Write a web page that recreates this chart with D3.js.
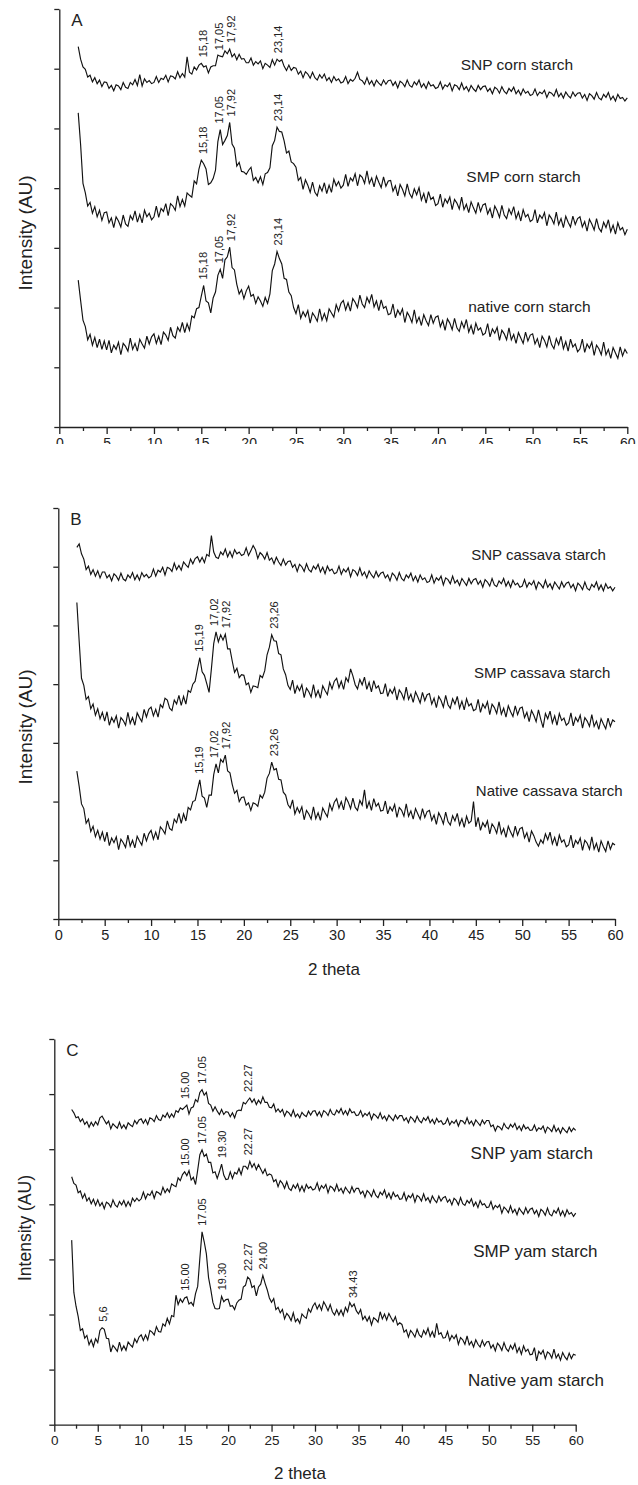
<!DOCTYPE html>
<html>
<head>
<meta charset="utf-8">
<script src="https://cdn.jsdelivr.net/npm/d3@7"></script>
<style>
  body { margin: 0; background: #fff; }
  svg { display: block; font-family: "Liberation Sans", Arial, sans-serif; }
  .axis path, .axis line { fill: none; stroke: #222; stroke-width: 1.3px; }
  .axis text { fill: #222; }
  .trace { fill: none; stroke: #121212; stroke-width: 1.15px; stroke-linejoin: miter; }
  .peak { fill: #222; font-size: 11px; }
  .name { fill: #222; }
</style>
</head>
<body>
<svg id="svg" width="638" height="1485"></svg>
<script>
// sampling grid of every trace: 2 theta from 2 to 60, step 0.25
var thetaStart = 2, thetaStep = 0.25;
var xTicks = [0, 5, 10, 15, 20, 25, 30, 35, 40, 45, 50, 55, 60];
var xMinorTicks = [2.5, 7.5, 12.5, 17.5, 22.5, 27.5, 32.5, 37.5, 42.5, 47.5, 52.5, 57.5];
var yTicks = [0, 10, 20, 30, 40, 50, 60, 70];

// ---- A: corn starch (intensity, stacked AU) ----
var cornSNP = [
  63.7,61.6,60.3,59.9,58.6,58.9,57.8,58.5,57.5,58.1,57.0,57.8,
  57.7,56.7,57.2,56.3,57.3,57.1,56.5,57.7,56.9,56.7,57.7,57.3,58.2,57.2,59.0,57.1,58.3,57.7,58.0,57.5,
  57.7,58.7,57.7,58.4,58.2,58.9,57.8,58.8,58.7,58.3,59.5,58.5,59.2,58.6,62.0,59.4,59.1,60.3,59.8,60.6,
  60.9,60.3,60.5,59.3,60.3,60.5,60.5,62.3,62.1,62.0,63.0,62.5,63.3,62.0,62.5,61.5,62.4,61.6,61.7,61.0,
  61.0,61.8,60.6,61.2,60.8,61.3,60.0,60.9,60.6,60.2,61.5,60.6,61.6,61.2,61.5,60.4,59.7,60.6,59.7,60.2,
  60.1,59.1,59.6,58.5,59.5,59.1,58.4,59.4,58.5,58.1,59.0,58.4,59.1,58.0,58.5,57.7,58.7,58.0,58.3,57.6,
  57.8,58.7,57.5,58.2,57.9,58.4,59.4,58.2,58.0,57.4,58.5,57.4,58.0,57.1,58.1,57.6,57.2,58.1,57.4,58.0,
  58.1,57.2,57.8,56.8,57.9,57.6,57.0,58.1,57.2,56.9,57.8,57.3,58.1,56.9,57.5,56.7,57.8,57.1,57.3,56.7,
  56.9,57.8,56.6,57.3,57.0,57.6,56.3,57.3,57.1,56.5,57.6,56.5,57.0,56.2,57.2,56.6,56.2,57.2,56.5,57.0,
  57.1,56.2,56.7,55.8,56.9,56.6,55.9,57.0,56.2,55.8,56.7,56.2,56.9,55.8,56.4,55.6,56.6,55.9,56.2,55.5,
  55.7,56.6,55.5,56.1,55.8,56.4,55.2,56.1,55.9,55.4,56.5,55.3,55.9,55.1,56.1,55.5,55.1,56.1,55.4,55.9,
  56.0,55.1,55.7,54.7,55.8,55.5,54.9,56.0,55.1,54.8,55.7,55.2,56.0,54.8,55.4,54.6,55.7,55.0,55.2,54.6,
  55.1
];
var cornSMP = [
  52.6,47.3,40.8,39.2,37.0,37.6,35.8,36.9,35.2,36.3,34.6,35.9,
  36.0,34.2,35.0,33.4,35.2,34.5,33.5,35.5,34.0,33.6,35.4,34.7,36.2,34.3,35.6,34.2,36.3,35.2,35.8,34.7,
  35.2,37.0,35.1,36.6,36.1,37.4,35.4,37.4,37.0,36.3,38.7,36.9,38.1,37.0,39.2,38.8,38.5,41.2,40.7,43.2,
  44.7,44.1,43.2,40.6,40.9,41.6,43.0,47.8,49.8,47.3,48.0,48.8,51.0,47.4,46.7,43.7,44.3,42.8,42.7,42.3,
  43.0,43.5,41.3,41.8,40.9,41.9,40.6,42.4,42.6,43.4,47.1,48.0,50.2,49.5,49.4,47.9,45.9,46.2,44.4,44.1,
  43.5,41.3,41.8,39.8,41.4,40.5,39.3,41.0,39.3,38.7,40.4,39.5,40.9,39.1,40.5,39.3,41.5,40.4,41.1,40.0,
  40.5,42.3,40.3,41.7,41.2,42.4,40.4,42.2,41.8,40.8,42.9,40.8,41.7,40.2,42.0,41.0,40.1,41.9,40.3,41.2,
  41.3,39.5,40.4,38.7,40.6,39.8,38.7,40.7,39.1,38.4,39.9,38.9,40.1,38.0,39.1,37.5,39.4,38.1,38.5,37.1,
  37.4,39.0,36.8,38.2,37.5,38.5,36.4,38.1,37.5,36.5,38.5,36.4,37.3,35.9,37.7,36.7,35.8,37.6,36.1,37.2,
  37.4,35.7,36.6,35.0,37.0,36.2,35.1,37.1,35.5,34.9,36.5,35.6,36.9,34.9,36.0,34.5,36.4,35.2,35.6,34.4,
  34.7,36.4,34.2,35.5,34.9,35.9,33.7,35.5,34.9,34.0,36.0,33.9,34.9,33.4,35.3,34.3,33.5,35.3,33.9,34.9,
  35.2,33.5,34.4,32.8,34.8,34.0,33.0,34.9,33.3,32.7,34.3,33.4,34.7,32.7,33.8,32.3,34.2,33.0,33.4,32.2,
  33.1
];
var cornNative = [
  24.6,21.2,17.9,16.8,14.6,15.5,13.7,15.0,13.3,14.7,13.0,14.4,
  12.9,14.5,12.4,13.7,13.0,14.2,12.1,14.0,13.5,12.7,14.9,13.0,14.0,12.7,14.7,13.9,13.2,15.2,13.9,15.1,
  15.6,14.0,15.2,13.8,15.9,15.4,14.5,16.7,15.3,14.9,16.7,16.0,17.5,15.8,17.3,16.2,18.6,18.3,19.8,20.0,
  21.9,23.7,21.1,20.8,19.1,21.6,22.6,25.4,26.4,24.9,28.0,28.5,30.1,26.7,26.3,23.9,22.3,23.0,21.5,22.8,
  23.6,21.9,22.2,20.7,21.8,21.1,20.2,21.7,20.7,22.3,26.2,27.3,29.4,28.2,27.3,24.9,24.7,22.6,22.0,20.0,
  19.0,20.5,18.2,19.3,18.5,19.5,17.4,19.1,18.5,17.7,19.8,17.9,19.0,17.8,19.8,19.1,18.4,20.5,19.4,20.7,
  21.2,19.6,20.8,19.4,21.5,20.9,20.0,22.1,20.6,20.0,21.7,20.8,22.2,20.1,21.1,19.5,21.3,19.9,20.2,18.8,
  19.0,20.6,18.3,19.6,18.8,19.8,17.5,19.2,18.5,17.5,19.6,17.5,18.4,17.0,18.8,17.8,17.0,18.8,17.4,18.4,
  18.6,16.8,17.8,16.2,18.1,17.4,16.3,18.2,16.6,16.0,17.6,16.6,18.0,15.9,17.0,15.5,17.4,16.2,16.6,15.4,
  15.7,17.3,15.1,16.4,15.7,16.7,14.5,16.2,15.6,14.6,16.6,14.6,15.5,14.0,15.8,14.9,14.0,15.9,14.4,15.4,
  15.6,13.9,14.8,13.3,15.2,14.5,13.4,15.3,13.8,13.1,14.8,13.8,15.2,13.1,14.3,12.7,14.7,13.4,13.9,12.6,
  13.1,14.7,12.5,13.9,13.2,14.2,12.0,13.7,13.1,12.1,14.2,12.1,13.0,11.5,13.3,12.4,11.5,13.4,11.9,13.0,
  12.3
];
var cornNames = ["SNP corn starch", "SMP corn starch", "native corn starch"];
var cornNameTheta = [42.4, 43.0, 43.2];
var cornNameLevel = [59.8, 41.0, 19.3];
var cornPeaks = [15.18, 17.05, 17.92, 23.14];
var cornPeakText = ["15,18", "17,05", "17,92", "23,14"];

// ---- B: cassava starch ----
var cassavaSNP = [
  63.3,63.9,62.2,61.3,59.5,60.1,58.7,59.5,58.4,59.3,58.1,59.1,
  59.1,58.1,58.6,57.6,58.8,58.4,57.7,58.9,57.9,57.6,58.6,58.1,59.0,57.8,58.6,57.7,59.0,58.3,58.7,58.1,
  58.4,59.6,58.4,59.4,59.1,59.9,58.6,59.9,59.7,59.2,60.6,59.5,60.2,59.4,60.8,60.3,59.9,61.3,60.5,61.4,
  61.7,60.8,61.6,60.7,62.1,61.8,65.3,62.5,61.6,61.4,62.5,62.0,63.0,61.7,62.6,61.6,62.9,62.2,62.5,61.9,
  62.1,63.2,61.9,62.7,63.6,62.9,61.4,62.4,62.0,61.3,62.4,61.1,61.5,60.5,61.6,60.8,60.2,61.3,60.3,60.9,
  61.0,59.9,60.4,59.2,60.4,60.0,59.2,60.5,59.5,59.1,60.1,59.6,60.4,59.1,59.9,58.8,60.1,59.3,59.6,58.8,
  59.0,60.1,58.7,59.6,59.1,59.8,58.3,59.5,59.2,58.5,59.8,58.5,59.1,58.1,59.3,58.6,58.1,59.2,58.3,58.9,
  59.1,58.1,58.6,57.6,58.9,58.5,57.7,59.0,58.0,57.6,58.6,58.1,58.9,57.6,58.4,57.4,58.6,57.8,58.1,57.3,
  57.5,58.6,57.2,58.1,57.7,58.4,56.9,58.1,57.8,57.1,58.4,57.2,57.7,56.8,58.0,57.4,56.8,58.0,57.1,57.8,
  58.0,57.0,57.6,56.5,57.8,57.4,56.7,58.0,56.9,56.6,57.6,57.1,58.0,56.7,57.5,56.5,57.7,56.9,57.2,56.5,
  56.7,57.8,56.5,57.3,56.9,57.6,56.2,57.4,57.0,56.4,57.7,56.5,57.1,56.2,57.4,56.8,56.2,57.4,56.5,57.2,
  57.4,56.4,57.0,55.9,57.2,56.8,56.1,57.4,56.3,56.0,57.0,56.5,57.4,56.1,56.9,55.9,57.1,56.3,56.6,55.9,
  56.5
];
var cassavaSMP = [
  53.9,47.3,41.0,39.8,37.4,37.9,35.8,36.6,34.7,35.8,34.1,35.2,
  33.7,35.3,33.0,34.3,33.5,34.6,32.5,34.3,33.8,33.0,35.2,33.3,34.3,33.0,35.1,34.3,33.6,35.7,34.4,35.7,
  36.1,34.6,35.7,34.4,36.5,36.0,37.6,37.3,35.9,35.5,37.3,36.6,38.1,36.4,37.9,36.6,38.9,38.6,40.0,40.5,
  42.6,44.5,42.1,41.5,40.1,38.6,42.6,46.9,48.9,47.2,48.4,47.5,48.5,46.0,46.0,43.9,42.0,42.7,41.1,41.6,
  41.5,39.9,40.2,38.6,39.7,39.6,39.4,41.5,41.1,42.3,45.0,46.3,48.4,47.4,47.3,45.2,45.0,42.6,41.6,39.8,
  39.1,40.7,38.4,39.7,38.9,39.9,37.7,39.3,38.7,37.8,39.9,37.9,38.9,37.6,39.7,38.9,38.2,40.3,39.2,40.5,
  41.0,39.4,40.5,39.1,41.1,40.4,42.6,41.4,39.9,39.2,40.8,39.9,41.2,39.1,40.3,38.7,40.6,39.3,39.7,38.4,
  38.5,40.1,37.9,39.1,38.4,39.4,37.3,39.0,38.4,37.4,39.5,37.4,38.3,36.9,38.7,37.8,36.8,38.6,37.2,38.2,
  38.4,36.6,37.6,36.0,37.9,37.2,36.1,38.1,36.5,35.9,37.5,36.6,37.9,35.9,37.1,35.6,37.5,36.3,36.7,35.5,
  35.7,37.4,35.2,36.6,35.9,37.0,34.8,36.6,36.0,35.0,37.0,34.9,35.9,34.4,36.3,35.3,34.5,36.3,34.8,35.9,
  36.1,34.3,35.2,33.6,35.5,34.7,33.6,35.6,34.0,32.6,35.0,34.1,35.4,33.4,34.6,33.0,35.0,33.8,34.2,33.0,
  33.4,35.1,32.9,34.3,33.6,34.7,32.5,34.3,33.7,32.8,34.8,32.8,33.7,32.3,34.1,33.2,32.4,34.2,32.8,33.9,
  33.6
];
var cassavaNative = [
  25.2,22.6,19.6,18.8,16.3,17.0,14.9,15.8,14.0,15.1,13.6,14.8,
  13.2,14.8,12.5,13.8,13.0,14.0,11.8,13.6,13.0,12.2,14.3,12.4,13.4,12.1,14.1,13.3,12.6,14.6,13.3,14.5,
  15.1,13.6,14.8,13.5,15.7,15.2,14.5,16.7,15.4,15.1,17.0,16.4,18.0,16.3,17.9,16.7,19.0,18.6,20.0,20.2,
  22.0,23.7,20.9,20.6,19.0,21.1,21.1,24.6,26.4,24.9,27.2,26.7,27.9,25.2,24.9,22.9,21.4,21.9,20.0,20.7,
  20.8,19.4,19.8,18.5,19.8,19.6,19.2,21.1,20.6,21.6,24.0,24.8,26.7,25.4,25.6,23.8,23.7,21.6,21.1,19.5,
  18.9,20.3,17.9,19.0,18.1,19.1,16.9,18.5,17.9,17.0,19.1,17.1,18.1,16.8,18.9,18.1,17.4,19.6,18.5,19.9,
  20.5,18.9,20.0,18.6,20.7,19.9,18.8,20.6,19.0,18.5,20.2,19.4,22.0,18.8,20.0,18.5,20.5,19.2,19.7,18.4,
  18.5,20.1,17.9,19.1,18.4,19.5,17.3,19.0,18.5,17.5,19.6,17.5,18.4,17.0,18.8,17.9,17.0,18.8,17.3,18.3,
  18.5,16.8,17.7,16.1,18.1,17.3,16.2,18.2,16.6,16.0,17.6,16.7,18.0,16.0,17.1,15.6,17.5,16.3,16.7,20.0,
  15.7,17.3,15.1,16.4,15.7,16.7,14.5,16.2,15.6,14.6,16.6,14.5,15.4,13.9,15.8,14.8,14.0,15.8,14.3,15.4,
  15.6,13.8,14.7,13.1,15.0,14.2,13.1,12.4,13.5,12.9,14.5,13.5,14.8,12.8,13.9,12.4,14.3,13.1,13.5,12.3,
  12.6,14.3,12.1,13.4,12.8,13.8,11.7,13.4,12.9,11.9,14.0,11.9,12.9,11.4,13.3,12.3,11.5,13.3,11.9,12.9,
  12.6
];
var cassavaNames = ["SNP cassava starch", "SMP cassava starch", "Native cassava starch"];
var cassavaNameTheta = [44.5, 44.8, 45.0];
var cassavaNameLevel = [61.2, 41.1, 21.0];
var cassavaPeaks = [15.19, 17.02, 17.92, 23.26];
var cassavaPeakText = ["15,19", "17,02", "17,92", "23,26"];

// ---- C: yam starch ----
var yamSNP = [
  57.2,56.6,55.7,55.9,55.0,55.5,54.5,55.0,54.0,54.9,54.2,55.0,
  54.4,55.7,56.0,55.3,54.6,55.1,53.7,54.6,54.2,53.8,54.9,53.8,54.4,53.7,54.8,54.4,54.1,55.2,54.6,55.3,
  55.5,54.7,55.4,54.5,55.7,55.5,55.0,56.1,55.4,55.2,56.2,55.8,56.6,55.7,56.4,55.8,57.0,56.7,57.5,57.2,
  57.6,58.0,56.4,57.5,57.7,59.0,58.6,60.3,60.8,59.8,60.3,58.3,58.0,56.9,57.7,56.9,56.3,57.2,56.3,56.8,
  56.7,55.9,56.6,55.7,56.9,57.1,57.0,58.5,58.2,58.8,59.3,58.5,59.1,58.1,58.9,58.3,59.5,58.5,58.5,57.6,
  57.5,58.2,56.8,57.3,56.7,57.2,56.0,56.9,56.6,56.0,57.1,55.9,56.4,55.7,56.7,56.2,55.9,56.9,56.2,56.9,
  57.0,56.1,56.8,55.9,57.0,56.7,56.1,57.2,56.4,56.2,57.1,56.6,57.4,56.3,57.0,56.2,57.3,56.6,56.8,56.1,
  56.2,57.0,55.9,56.5,56.1,56.7,55.4,56.4,56.1,55.6,56.6,55.5,56.0,55.2,56.2,55.7,55.2,56.2,55.5,56.1,
  56.1,55.2,55.7,54.8,55.9,55.5,54.9,56.0,55.2,54.8,55.7,55.2,55.9,54.8,55.4,54.6,55.6,54.9,55.2,54.5,
  54.7,55.6,54.4,55.1,54.7,55.3,54.2,55.2,55.1,54.6,55.7,54.6,55.1,54.3,55.3,54.8,54.3,55.3,54.6,55.2,
  55.2,54.1,54.4,53.3,54.2,54.0,53.5,54.7,54.0,53.7,54.5,54.0,54.7,53.6,54.2,53.4,54.4,53.7,54.0,53.4,
  53.5,54.4,53.3,53.9,53.6,54.2,53.0,54.0,53.7,53.2,54.3,53.2,53.8,52.9,53.9,53.4,53.0,54.0,53.2,53.8,
  53.4
];
var yamSMP = [
  45.0,43.8,43.5,42.1,42.4,41.1,41.9,40.6,41.2,40.1,40.9,39.8,
  40.8,39.7,40.3,39.2,40.4,40.1,39.5,40.8,39.9,39.5,40.5,39.9,40.7,39.6,40.5,39.7,41.1,40.5,41.1,40.6,
  41.0,42.2,41.0,41.9,41.6,42.4,41.1,42.3,42.1,41.7,43.1,42.1,42.8,42.2,43.7,43.4,43.2,44.8,44.3,45.4,
  45.9,45.2,46.1,44.4,44.9,43.6,46.2,49.0,49.9,48.7,49.1,47.6,47.6,45.7,45.9,44.7,45.9,47.3,45.3,44.5,
  44.6,45.9,44.7,45.8,45.5,46.5,45.4,46.9,46.9,46.4,47.8,46.7,47.4,46.3,47.2,46.4,45.6,46.4,45.2,45.5,
  45.3,44.1,44.5,43.2,44.3,43.8,42.9,44.1,42.9,42.5,43.5,42.9,43.7,42.4,43.3,42.3,43.6,42.9,43.2,42.6,
  42.8,43.9,42.5,43.4,42.9,43.6,42.1,43.3,43.0,42.4,43.6,42.4,42.9,42.0,43.1,42.5,42.0,43.2,42.2,42.9,
  42.9,41.9,42.4,41.3,42.5,42.1,41.4,42.6,41.6,41.2,42.2,41.7,42.6,41.2,42.0,41.0,42.2,41.4,41.7,40.9,
  41.0,42.1,40.7,41.6,41.2,41.9,40.4,41.6,41.3,40.6,41.9,40.7,41.2,40.3,41.5,40.8,40.3,41.5,40.6,41.2,
  41.4,40.4,40.9,39.9,41.1,40.7,39.9,41.2,40.1,39.8,40.7,40.2,41.0,39.7,40.4,39.4,40.7,39.9,40.1,39.4,
  39.5,40.5,39.1,39.8,39.4,39.9,38.4,39.5,39.1,38.5,39.7,38.5,39.1,38.1,39.3,38.7,38.2,39.4,38.4,39.1,
  39.3,38.3,38.9,37.8,39.1,38.7,38.0,39.3,38.2,37.9,38.9,38.4,39.3,38.0,38.8,37.8,39.0,38.2,38.5,37.8,
  38.4
];
var yamNative = [
  33.5,24.0,21.5,19.6,17.1,17.4,15.7,16.2,14.5,15.4,14.2,15.6,
  14.9,17.1,17.6,17.3,15.7,15.6,13.2,14.4,13.9,13.3,15.0,13.5,14.3,13.5,15.0,14.5,14.1,15.6,14.9,15.9,
  16.3,15.3,16.3,15.4,17.1,16.8,16.3,17.8,16.9,16.8,18.3,17.9,19.3,18.3,19.8,19.6,23.5,21.8,22.8,22.2,
  23.0,23.2,21.9,22.2,21.6,23.8,25.1,30.2,35.0,33.2,31.0,26.7,24.6,22.2,21.1,21.0,21.1,23.3,22.3,22.7,
  22.8,21.5,21.6,20.9,22.1,22.6,22.8,25.0,25.3,26.8,26.4,24.9,25.2,23.4,25.0,25.5,27.1,25.7,24.5,23.0,
  22.2,22.9,20.9,21.3,20.3,20.9,19.2,20.2,19.7,18.9,20.3,18.7,19.2,18.4,20.1,19.6,19.3,21.0,20.4,21.5,
  22.1,21.0,21.8,20.8,22.3,21.6,20.7,21.8,20.5,19.9,20.9,19.9,20.8,19.8,21.3,20.5,22.2,21.4,21.9,20.7,
  20.1,20.9,19.1,19.7,18.8,19.6,18.1,19.4,19.1,18.6,20.5,19.2,20.1,19.0,20.2,19.4,18.7,19.6,18.1,18.5,
  18.2,16.8,17.2,15.9,17.1,16.6,15.9,17.3,16.3,15.9,17.1,16.4,17.5,16.0,16.9,15.8,18.4,16.4,16.7,15.7,
  15.8,16.9,15.3,16.2,15.6,16.3,14.6,15.8,15.4,14.6,16.1,14.5,15.1,14.1,15.4,14.6,14.1,15.3,14.3,15.0,
  15.1,13.9,14.5,13.4,14.8,14.3,13.5,14.9,13.8,13.3,14.4,13.7,14.7,13.1,14.0,12.8,14.3,13.3,13.7,12.7,
  12.8,14.0,11.6,13.3,12.8,13.5,12.0,13.2,12.9,12.1,13.7,12.1,12.8,11.7,13.1,12.3,11.8,13.0,12.0,12.8,
  12.6
];
var yamNames = ["SNP yam starch", "SMP yam starch", "Native yam starch"];
var yamNameTheta = [47.9, 48.2, 47.6];
var yamNameLevel = [48.2, 30.4, 7.0];
var yamSNPPeaks = [15.00, 17.05, 22.27];
var yamSNPPeakText = ["15.00", "17.05", "22.27"];
var yamSMPPeaks = [15.00, 17.05, 19.30, 22.27];
var yamSMPPeakText = ["15.00", "17.05", "19.30", "22.27"];
var yamNativePeaks = [5.6, 15.00, 17.05, 19.30, 22.27, 24.00, 34.43];
var yamNativePeakText = ["5,6", "15.00", "17.05", "19.30", "22.27", "24.00", "34.43"];

var panels = [
  { letter: "A", left: 59.3, right: 627.3, top: 9, bottom: 427,
    series: [cornSNP, cornSMP, cornNative], names: cornNames,
    nameTheta: cornNameTheta, nameLevel: cornNameLevel, nameFont: 15.5,
    peaks: [cornPeaks, cornPeaks, cornPeaks],
    peakText: [cornPeakText, cornPeakText, cornPeakText],
    tickFont: 14, titleFont: 19, titleY: 233, clipTicks: 17, xTitle: null },
  { letter: "B", left: 58.3, right: 615, top: 508, bottom: 919,
    series: [cassavaSNP, cassavaSMP, cassavaNative], names: cassavaNames,
    nameTheta: cassavaNameTheta, nameLevel: cassavaNameLevel, nameFont: 15,
    peaks: [[], cassavaPeaks, cassavaPeaks],
    peakText: [[], cassavaPeakText, cassavaPeakText],
    tickFont: 14.5, titleFont: 19, titleY: 727, clipTicks: 0, xTitle: [334, 975] },
  { letter: "C", left: 54.3, right: 575.7, top: 1039, bottom: 1424.7,
    series: [yamSNP, yamSMP, yamNative], names: yamNames,
    nameTheta: yamNameTheta, nameLevel: yamNameLevel, nameFont: 17,
    peaks: [yamSNPPeaks, yamSMPPeaks, yamNativePeaks],
    peakText: [yamSNPPeakText, yamSMPPeakText, yamNativePeakText],
    tickFont: 13.5, titleFont: 17.5, titleY: 1228, clipTicks: 0, xTitle: [300, 1479] }
];

var svg = d3.select("#svg");

function toPoints(values) {
  return values.map(function (v, i) {
    return { theta: thetaStart + i * thetaStep, value: v };
  });
}

function localMax(points, theta) {
  var near = points.filter(function (d) { return Math.abs(d.theta - theta) <= 0.3; });
  return d3.max(near, function (d) { return d.value; });
}

// push neighbouring vertical labels apart so they don't sit on top of each other
function spreadLabels(xs, minGap) {
  for (var i = 1; i < xs.length; i++) {
    var gap = xs[i] - xs[i - 1];
    if (gap < minGap) {
      xs[i - 1] -= (minGap - gap) / 2;
      xs[i] += (minGap - gap) / 2;
    }
  }
  return xs;
}

function drawPanel(p, k) {
  var x = d3.scaleLinear().domain([0, 60]).range([p.left, p.right]);
  var y = d3.scaleLinear().domain([0, 70]).range([p.bottom, p.top]);
  var g = svg.append("g");

  var gx = g.append("g")
    .attr("class", "axis x")
    .attr("transform", "translate(0," + p.bottom + ")")
    .call(d3.axisBottom(x).tickValues(xTicks).tickSize(7).tickSizeOuter(0).tickPadding(4));
  gx.selectAll("text").style("font-size", p.tickFont + "px");

  if (p.clipTicks) {
    // panel A was cut through its tick labels
    svg.append("clipPath").attr("id", "cut" + k)
      .append("rect").attr("x", 0).attr("y", -10)
      .attr("width", 638).attr("height", p.clipTicks + 10);
    gx.attr("clip-path", "url(#cut" + k + ")");
  }

  g.append("g")
    .attr("class", "axis minor")
    .attr("transform", "translate(0," + p.bottom + ")")
    .call(d3.axisBottom(x).tickValues(xMinorTicks).tickSize(4).tickFormat(""))
    .select(".domain").remove();

  g.append("g")
    .attr("class", "axis y")
    .attr("transform", "translate(" + p.left + ",0)")
    .call(d3.axisLeft(y).tickValues(yTicks).tickSize(5).tickSizeOuter(0).tickFormat(""));

  var line = d3.line()
    .x(function (d) { return x(d.theta); })
    .y(function (d) { return y(d.value); });

  p.series.forEach(function (values, s) {
    var pts = toPoints(values);
    g.append("path").attr("class", "trace").attr("d", line(pts));

    g.append("text")
      .attr("class", "name")
      .attr("x", x(p.nameTheta[s]))
      .attr("y", y(p.nameLevel[s]))
      .style("font-size", p.nameFont + "px")
      .text(p.names[s]);

    var xs = spreadLabels(p.peaks[s].map(function (v) { return x(v); }), 12);
    p.peaks[s].forEach(function (v, j) {
      var top = y(localMax(pts, v)) - 6;
      g.append("text")
        .attr("class", "peak")
        .attr("transform", "translate(" + xs[j] + "," + top + ") rotate(-90)")
        .attr("dy", "0.35em")
        .text(p.peakText[s][j]);
    });
  });

  g.append("text")
    .attr("x", p.left + 12)
    .attr("y", p.top + 17)
    .style("font-size", "17px")
    .attr("fill", "#222")
    .text(p.letter);

  g.append("text")
    .attr("transform", "translate(25," + p.titleY + ") rotate(-90)")
    .attr("text-anchor", "middle")
    .attr("dy", "0.35em")
    .style("font-size", p.titleFont + "px")
    .attr("fill", "#222")
    .text("Intensity (AU)");

  if (p.xTitle) {
    g.append("text")
      .attr("x", p.xTitle[0])
      .attr("y", p.xTitle[1])
      .attr("text-anchor", "middle")
      .style("font-size", "17px")
      .attr("fill", "#222")
      .text("2 theta");
  }
}

panels.forEach(drawPanel);
</script>
</body>
</html>
